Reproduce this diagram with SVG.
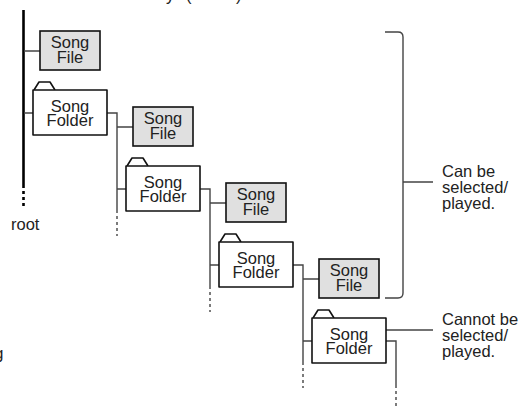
<svg xmlns="http://www.w3.org/2000/svg" width="523" height="408" viewBox="0 0 523 408">
<style>
text{font-family:"Liberation Sans",Arial,Helvetica,sans-serif;font-size:16.5px;fill:#222}
.c{text-anchor:middle}
.file{fill:#e0e0e0;stroke:#111;stroke-width:1.6}
.fold{fill:#fff;stroke:#111;stroke-width:1.6;stroke-linejoin:round}
.ln{fill:none;stroke:#444;stroke-width:1.4}
.dot{fill:none;stroke:#444;stroke-width:1.4;stroke-dasharray:3 3}
.root{fill:none;stroke:#000;stroke-width:2.6}
.rootd{fill:none;stroke:#000;stroke-width:2.6;stroke-dasharray:3 3}
</style>
<rect width="523" height="408" fill="#fff"/>
<text x="166" y="0.5">y</text>
<text x="186" y="0.5">(</text>
<text x="236" y="0.5">)</text>
<text x="3.5" y="359" text-anchor="end">g</text>
<g id="connectors">
<path class="root" d="M23.5,10 V188"/>
<path class="rootd" d="M23.5,191 V209"/>
<path class="ln" d="M24,51 H40 M24,113 H33"/>
<path class="ln" d="M107,113 H117 V213 M117,127 H133 M117,189 H126"/>
<path class="dot" d="M117,216 V236"/>
<path class="ln" d="M200,189 H210 V289 M210,203 H226 M210,265 H219"/>
<path class="dot" d="M210,292 V312"/>
<path class="ln" d="M293,265 H303 V365 M303,279 H319 M303,341 H312"/>
<path class="dot" d="M303,368 V388"/>
<path class="ln" d="M386,341 H396 V388"/>
<path class="dot" d="M396,391 V407"/>
<path class="ln" d="M385,32 H398 Q403,32 403,37 V293 Q403,298 398,298 H385 M403,182 H433"/>
<path class="ln" d="M382,330 H433"/>
</g>
<g id="file1"><rect class="file" x="40" y="31" width="60" height="39"/><text class="c" x="70" y="47.5">Song</text><text class="c" x="70" y="63">File</text></g>
<g id="folder1"><path class="fold" d="M34,90 L39,82 H50 L55,90"/><rect class="fold" x="33" y="90" width="74" height="45"/><text class="c" x="70" y="111.5">Song</text><text class="c" x="70" y="126">Folder</text></g>
<g id="file2"><rect class="file" x="133" y="107" width="60" height="39"/><text class="c" x="163" y="123.5">Song</text><text class="c" x="163" y="139">File</text></g>
<g id="folder2"><path class="fold" d="M127,166 L132,158 H143 L148,166"/><rect class="fold" x="126" y="166" width="74" height="45"/><text class="c" x="163" y="187.5">Song</text><text class="c" x="163" y="202">Folder</text></g>
<g id="file3"><rect class="file" x="226" y="183" width="60" height="39"/><text class="c" x="256" y="199.5">Song</text><text class="c" x="256" y="215">File</text></g>
<g id="folder3"><path class="fold" d="M220,242 L225,234 H236 L241,242"/><rect class="fold" x="219" y="242" width="74" height="45"/><text class="c" x="256" y="263.5">Song</text><text class="c" x="256" y="278">Folder</text></g>
<g id="file4"><rect class="file" x="319" y="259" width="60" height="39"/><text class="c" x="349" y="275.5">Song</text><text class="c" x="349" y="291">File</text></g>
<g id="folder4"><path class="fold" d="M313,318 L318,310 H329 L334,318"/><rect class="fold" x="312" y="318" width="74" height="45"/><text class="c" x="349" y="339.5">Song</text><text class="c" x="349" y="354">Folder</text></g>
<g id="root-label"><text x="11" y="230">root</text></g>
<g id="can-label"><text x="442" y="177">Can be</text><text x="442" y="193">selected/</text><text x="442" y="209">played.</text></g>
<g id="cannot-label"><text x="442" y="325">Cannot be</text><text x="442" y="341">selected/</text><text x="442" y="357">played.</text></g>
</svg>
